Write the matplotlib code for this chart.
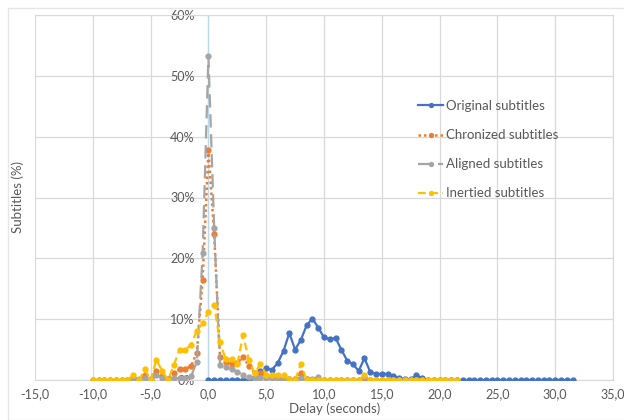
import matplotlib
matplotlib.use("Agg")
import matplotlib.pyplot as plt
from matplotlib.patches import Rectangle
from matplotlib.ticker import FuncFormatter, MultipleLocator

# Rejillas de retardo (segundos), paso de 0,5 s
delay_shifted = [-10.0, -9.5, -9.0, -8.5, -8.0, -7.5, -7.0, -6.5, -6.0, -5.5,
                 -5.0, -4.5, -4.0, -3.5, -3.0, -2.5, -2.0, -1.5, -1.0, -0.5,
                 0.0, 0.5, 1.0, 1.5, 2.0, 2.5, 3.0, 3.5, 4.0, 4.5,
                 5.0, 5.5, 6.0, 6.5, 7.0, 7.5, 8.0, 8.5, 9.0, 9.5,
                 10.0, 10.5, 11.0, 11.5, 12.0, 12.5, 13.0, 13.5, 14.0, 14.5,
                 15.0, 15.5, 16.0, 16.5, 17.0, 17.5, 18.0, 18.5, 19.0, 19.5,
                 20.0, 20.5, 21.0, 21.5]
delay_original = [0.0, 0.5, 1.0, 1.5, 2.0, 2.5, 3.0, 3.5, 4.0, 4.5,
                  5.0, 5.5, 6.0, 6.5, 7.0, 7.5, 8.0, 8.5, 9.0, 9.5,
                  10.0, 10.5, 11.0, 11.5, 12.0, 12.5, 13.0, 13.5, 14.0, 14.5,
                  15.0, 15.5, 16.0, 16.5, 17.0, 17.5, 18.0, 18.5, 19.0, 19.5,
                  20.0, 20.5, 21.0, 21.5, 22.0, 22.5, 23.0, 23.5, 24.0, 24.5,
                  25.0, 25.5, 26.0, 26.5, 27.0, 27.5, 28.0, 28.5, 29.0, 29.5,
                  30.0, 30.5, 31.0, 31.5]

# Porcentaje de subtítulos por retardo
original = [0, 0, 0, 0, 0, 0, 0, 0, 0.5, 1.4,
            1.9, 1.7, 2.8, 4.8, 7.7, 5.0, 6.6, 9.0, 10.1, 8.6,
            7.0, 6.7, 6.9, 5.0, 3.2, 2.6, 1.5, 3.6, 1.3, 1.0,
            1.0, 1.0, 0.7, 0.3, 0.1, 0.1, 0.8, 0.3, 0, 0,
            0, 0, 0, 0, 0, 0, 0, 0, 0, 0,
            0, 0, 0, 0, 0, 0, 0, 0, 0, 0,
            0, 0, 0, 0]
chronized = [0, 0, 0, 0, 0, 0, 0, 0.3, 0, 0.9,
             0.2, 1.5, 0.6, 0.1, 1.1, 1.75, 1.8, 2.3, 4.5, 16.5,
             37.8, 24.0, 3.8, 3.0, 2.6, 2.8, 3.8, 2.3, 1.2, 1.2,
             0.6, 0.3, 0.3, 0.2, 0.1, 0.2, 1.1, 0.1, 0, 0,
             0, 0, 0, 0, 0, 0, 0, 0, 0, 0,
             0, 0, 0, 0, 0, 0, 0, 0, 0, 0,
             0, 0, 0, 0]
aligned = [0, 0, 0, 0, 0, 0, 0, 0.3, 0.1, 0.3,
           0.2, 0.8, 0.4, 0.2, 0.3, 0.3, 0.3, 0.6, 3.0, 20.8,
           53.2, 25.0, 2.5, 2.2, 1.8, 1.3, 0.9, 0.5, 0.4, 0.3,
           0.3, 0.3, 0.3, 0.2, 0.1, 0.1, 0.4, 0.1, 0.1, 0.5,
           0, 0, 0, 0, 0, 0, 0, 0.5, 0, 0,
           0, 0, 0, 0, 0, 0, 0, 0, 0, 0,
           0, 0, 0, 0]
inertied = [0, 0, 0, 0, 0, 0, 0, 0.8, 0, 1.75,
            0, 3.3, 1.5, 0, 2.4, 5.0, 5.0, 5.8, 8.1, 9.3,
            11.2, 12.4, 6.2, 3.4, 3.4, 2.6, 7.4, 3.3, 1.1, 2.6,
            0.9, 0.9, 0.9, 0.8, 0.1, 0, 2.6, 0, 0, 0,
            0, 0, 0, 0, 0, 0, 0, 0.8, 0, 0,
            0, 0, 0, 0, 0, 0, 0, 0, 0, 0,
            0, 0, 0, 0]

gris_texto = "#595959"
gris_rejilla = "#D9D9D9"
plt.rcParams["font.family"] = ["Lato", "DejaVu Sans"]

fig = plt.figure(figsize=(6.24, 4.2), dpi=100)
ax = fig.add_axes([35 / 624, 40 / 420, 578 / 624, 365 / 420])

# Marco exterior del gráfico
fig.patches.append(Rectangle((8 / 624, 0), 1, 1 - 8 / 420, transform=fig.transFigure,
                             fill=False, edgecolor="#E6E6E6", linewidth=1))

ax.plot(delay_original, original, color="#4472C4", linestyle="-", linewidth=1.6,
        marker="o", markersize=3.5, label="Original subtitles", zorder=3)
ax.plot(delay_shifted, chronized, color="#ED7D31", linestyle=(0, (1, 1.2)), linewidth=1.8,
        marker="o", markersize=3.5, label="Chronized subtitles", zorder=4)
ax.plot(delay_shifted, aligned, color="#A5A5A5", linestyle=(0, (6, 3)), linewidth=1.6,
        marker="o", markersize=3.5, label="Aligned subtitles", zorder=5)
ax.plot(delay_shifted, inertied, color="#FFC000", linestyle=(0, (3.5, 2)), linewidth=1.6,
        marker="o", markersize=3.5, label="Inertied subtitles", zorder=6)

ax.set_xlim(-15, 35)
ax.set_ylim(0, 60)
ax.xaxis.set_major_locator(MultipleLocator(5))
ax.yaxis.set_major_locator(MultipleLocator(10))
ax.xaxis.set_major_formatter(FuncFormatter(lambda v, p: f"{v:.1f}".replace(".", ",")))
ax.yaxis.set_major_formatter(FuncFormatter(lambda v, p: f"{v:.0f}%"))
ax.grid(True, color=gris_rejilla, linewidth=0.9)
ax.set_axisbelow(True)

# Eje Y cruzando en x = 0
ax.spines["left"].set_position(("data", 0))
ax.spines["left"].set_color("#BDD7EE")
ax.spines["left"].set_linewidth(0.9)
ax.spines["left"].set_zorder(2)
for lado in ["top", "right", "bottom"]:
    ax.spines[lado].set_color(gris_rejilla)
ax.tick_params(length=0, labelsize=9, labelcolor=gris_texto)
ax.tick_params(axis="y", pad=10)
ax.tick_params(axis="x", pad=6)

fig.text(18 / 624, 1 - 197 / 420, "Subtitles (%)", rotation=90, ha="center", va="center",
         fontsize=9.5, color=gris_texto)
fig.text(335 / 624, 1 - 409 / 420, "Delay (seconds)", ha="center", va="center",
         fontsize=9.5, color=gris_texto)

ax.legend(loc="upper left", bbox_to_anchor=(418 / 624, 1 - 100 / 420),
          bbox_transform=fig.transFigure, frameon=False, fontsize=9.5,
          labelcolor=gris_texto, handlelength=1.9, handletextpad=0.2,
          labelspacing=1.3, borderpad=0, borderaxespad=0, markerscale=0.8)

fig.savefig("out.png", dpi=100)
